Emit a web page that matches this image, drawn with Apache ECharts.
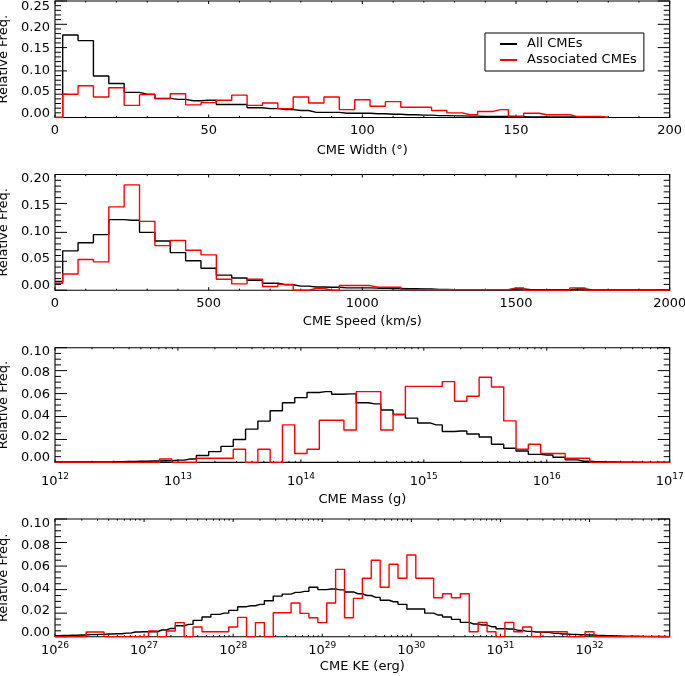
<!DOCTYPE html>
<html><head><meta charset="utf-8">
<script src="https://cdn.jsdelivr.net/npm/echarts@6/dist/echarts.min.js"></script>
<style>html,body{margin:0;padding:0;background:#fff}#c{width:685px;height:676px}</style>
</head><body><div id="c"></div>
<script>
// ---------------- DATA ----------------
// Panel 1: CME width (deg), bin centres
const widthBins = [0,5,10,15,20,25,30,35,40,45,50,55,60,65,70,75,80,85,90,95,100,105,110,115,120,125,130,135,140,145,150,155,160,165,170,175,180];
const widthAll = [0,0.177,0.165,0.089,0.073,0.054,0.050,0.041,0.039,0.036,0.037,0.028,0.028,0.021,0.019,0.017,0.015,0.011,0.011,0.009,0.009,0.008,0.007,0.006,0.005,0.004,0.0035,0.003,0.002,0.002,0.0015,0.001,0.001,0.001,0.001,0.001,0];
const widthAssoc = [0,0.050,0.068,0.044,0.064,0.026,0.049,0.040,0.051,0.027,0.032,0.037,0.048,0.026,0.031,0.019,0.044,0.031,0.044,0.017,0.038,0.024,0.034,0.022,0.022,0.015,0.010,0.006,0.013,0.017,0.003,0.009,0.006,0.006,0.002,0.002,0];

// Panel 2: CME speed (km/s), bin centres
const speedBins = [0,50,100,150,200,250,300,350,400,450,500,550,600,650,700,750,800,850,900,950,1000,1050,1100,1150,1200,1250,1300,1350,1400,1450,1500,1550,1600,1650,1700,1750,1800,1850,1900,1950,2000];
const speedAll = [0.015,0.068,0.082,0.096,0.122,0.121,0.100,0.085,0.065,0.051,0.038,0.026,0.021,0.017,0.012,0.0095,0.007,0.0055,0.005,0.004,0.004,0.0035,0.003,0.0025,0.002,0.0015,0.001,0.001,0.001,0.001,0.002,0.001,0.001,0.001,0.002,0.0005,0.0005,0.0005,0.0005,0.0005,0.0005];
const speedAssoc = [0.012,0.028,0.053,0.049,0.144,0.182,0.119,0.077,0.086,0.069,0.061,0.019,0.011,0.019,0.0065,0.010,0,0.003,0,0.008,0.008,0.005,0.005,0.001,0.001,0.001,0.001,0.001,0.001,0.001,0.004,0,0,0,0.004,0,0,0,0,0,0];

// Panel 3: CME mass, log10(g) bin centres 12.0 ... 17.0 (step 0.1)
const massStart = 12.0, massStep = 0.1;
const massAll = [0.0003,0.0003,0.0004,0.0005,0.0005,0.0006,0.0008,0.001,0.0012,0.0015,
  0.002,0.003,0.006,0.0094,0.014,0.020,0.029,0.036,0.045,0.052,
  0.0565,0.061,0.0617,0.0594,0.0597,0.052,0.051,0.0457,0.0417,0.0386,
  0.0344,0.0327,0.0269,0.0274,0.0248,0.0222,0.0158,0.0123,0.010,0.007,
  0.0065,0.0045,0.0022,0.001,0.0006,0.0003,0.0002,0.0001,0,0,0];
const massAssoc = [0,0,0,0,0,0,0,0,0,0.003,
  0,0,0.0036,0.0036,0.0036,0.0115,0,0.0115,0,0.0327,
  0.0077,0.0115,0.0367,0.0367,0.0283,0.0617,0.0617,0.0283,0.0417,0.0663,
  0.0663,0.0663,0.0704,0.0533,0.0577,0.0742,0.0658,0.0362,0.0115,0.0158,
  0.0077,0.0077,0.0036,0.0036,0,0,0,0,0,0,0];
const massDecades = [12,13,14,15,16,17];

// Panel 4: CME kinetic energy, log10(erg) bin centres 26.0 ... 32.9 (step 0.1)
const keStart = 26.0, keStep = 0.1;
const keAll = [0.0008,0.001,0.0012,0.0015,0.0018,0.002,0.0023,0.0025,0.003,0.004,
  0.0042,0.0042,0.0057,0.007,0.0093,0.0105,0.0139,0.0167,0.019,0.020,
  0.0224,0.0255,0.0263,0.0275,0.0306,0.0345,0.0362,0.0377,0.0385,0.042,
  0.040,0.0405,0.0398,0.038,0.0365,0.035,0.0334,0.031,0.0297,0.0275,
  0.0235,0.0235,0.020,0.0184,0.0167,0.0147,0.0122,0.0108,0.0099,0.0085,
  0.0068,0.0065,0.0054,0.0045,0.004,0.0037,0.0028,0.0023,0.002,0.0017,
  0.0014,0.0011,0.0008,0.0006,0.0005,0.0004,0.0003,0.0002,0.0002,0.0001];
const keAssoc = [0,0,0,0,0.004,0.004,0,0,0,0,
  0,0.0048,0,0.0048,0.012,0,0.0082,0.0042,0.0042,0.0042,
  0.0082,0.0164,0,0.012,0,0.0204,0.0204,0.0286,0.0198,0.0161,
  0.012,0.0286,0.0572,0.0161,0.0326,0.0496,0.065,0.042,0.0615,0.0496,
  0.0694,0.0496,0.0496,0.0331,0.0365,0.0331,0.0365,0.0042,0.0122,0.0042,
  0,0.0122,0.0042,0.0082,0,0.0042,0.0042,0.0042,0,0,
  0.0042,0,0,0,0,0,0,0,0,0];
const keDecades = [26,27,28,29,30,31,32];

const yTicks1 = [0,0.05,0.10,0.15,0.20,0.25];
const yTicks2 = [0,0.05,0.10,0.15,0.20];
const yTicks34 = [0,0.02,0.04,0.06,0.08,0.10];

// ---------------- BUILD ----------------
const FONT = 'DejaVu Sans';
function centres(start, step, n){ const a=[]; for(let i=0;i<n;i++) a.push(+(start+i*step).toFixed(3)); return a; }
function logMinors(decades, max){ const m=[]; decades.forEach(d=>{ for(let k=2;k<=9;k++){ const v=d+Math.log10(k); if(v<max) m.push(v);} }); return m; }
function steps(min, max, step){ const a=[]; const n=Math.round((max-min)/step); for(let i=0;i<=n;i++) a.push(min+i*step); return a; }

const panels = [
  {grid:{left:55,right:15.3,top:1,height:116.5}, xs:widthBins, all:widthAll, assoc:widthAssoc,
   x:{min:0,max:200,interval:50,log:false,name:'CME Width (°)',nameGap:27,margin:7},
   y:{max:0.25,interval:0.05,minor:5,ticks:yTicks1,lmin:-0.010,lmax:0.262}},
  {grid:{left:55,right:15.3,top:174.5,height:115.7}, xs:speedBins, all:speedAll, assoc:speedAssoc,
   x:{min:0,max:2000,interval:500,log:false,name:'CME Speed (km/s)',nameGap:24.5,margin:6.5},
   y:{max:0.2,interval:0.05,minor:5,ticks:yTicks2,lmin:-0.008,lmax:0.207}},
  {grid:{left:55,right:15.3,top:347.7,height:114.7}, xs:centres(massStart,massStep,massAll.length), all:massAll, assoc:massAssoc,
   x:{min:12,max:17,log:true,decades:massDecades,name:'CME Mass (g)',nameGap:30.5,margin:9.5},
   y:{max:0.1,interval:0.02,minor:4,ticks:yTicks34,lmin:-0.0044,lmax:0.104}},
  {grid:{left:55,right:15.3,top:519,height:117.7}, xs:centres(keStart,keStep,keAll.length), all:keAll, assoc:keAssoc,
   x:{min:26,max:32.9,log:true,decades:keDecades,name:'CME KE (erg)',nameGap:23.5,margin:4},
   y:{max:0.1,interval:0.02,minor:4,ticks:yTicks34,lmin:-0.004,lmax:0.104}}
];

const grid=[], xAxis=[], yAxis=[], series=[];
const black='#000000', red='#ff0000';
const noLine = () => ({show:false, onZero:false});
const txt = {fontFamily:FONT, fontSize:13, color:'#000'};

panels.forEach((p,i)=>{
  grid.push(Object.assign({containLabel:false, outerBoundsMode:'none', show:true, borderColor:'#000', borderWidth:1.1, backgroundColor:'transparent'}, p.grid));
  const xc = p.x, yc = p.y;
  // x axis (labels + title only; the frame and ticks are drawn separately)
  const ax = {gridIndex:i, type:'value', min:xc.min, max:xc.max, position:'bottom', splitLine:{show:false},
    axisLine:noLine(), axisTick:{show:false}, minorTick:{show:false},
    name:xc.name, nameLocation:'middle', nameGap:xc.nameGap, nameTextStyle:txt};
  let xMaj, xMin;
  if (!xc.log) {
    ax.interval = xc.interval;
    ax.axisLabel = Object.assign({show:true, margin:xc.margin, formatter:v=>String(v)}, txt);
    xMaj = steps(xc.min, xc.max, xc.interval);
    xMin = steps(xc.min, xc.max, xc.interval/5).filter(v=>!xMaj.some(m=>Math.abs(m-v)<1e-9));
  } else {
    ax.axisLabel = {show:true, margin:xc.margin, customValues:xc.decades,
      formatter: v => '{b|10}{s|' + Math.round(v) + '}',
      rich:{b:{fontFamily:FONT,fontSize:13,color:'#000',lineHeight:20},
            s:{fontFamily:FONT,fontSize:9,color:'#000',verticalAlign:'top',lineHeight:20}}};
    xMaj = xc.decades; xMin = logMinors(xc.decades, xc.max);
  }
  const mainX = xAxis.length; xAxis.push(ax);
  const mainY = yAxis.length;
  yAxis.push({gridIndex:i, type:'value', min:0, max:yc.max, interval:yc.interval, position:'left', splitLine:{show:false},
    axisLine:noLine(), axisTick:{show:false}, minorTick:{show:false}, axisLabel:{show:false}});
  // label-only axis (labels sit slightly compressed relative to ticks, as in the original)
  yAxis.push({gridIndex:i, type:'value', min:yc.lmin, max:yc.lmax, position:'left', splitLine:{show:false},
    axisLine:noLine(), axisTick:{show:false},
    axisLabel:Object.assign({show:true, margin:5, customValues:yc.ticks, formatter:v=>v.toFixed(2)}, txt),
    name:'Relative Freq.', nameLocation:'middle', nameGap:37, nameRotate:90, nameTextStyle:txt});
  const yMaj = steps(0, yc.max, yc.interval);
  const yMin = steps(0, yc.max, yc.interval/yc.minor).filter(v=>!yMaj.some(m=>Math.abs(m-v)<1e-9));

  // tick marks on all four sides (inward), placed through the axis scales
  series.push({type:'custom', coordinateSystem:'cartesian2d', xAxisIndex:mainX, yAxisIndex:mainY,
    data:[[xc.min, 0]], silent:true, animation:false, z:1, clip:false,
    renderItem:(params, api)=>{
      const ch=[];
      const seg=(a,b)=>ch.push({type:'polyline', shape:{points:[a,b]}, style:{stroke:'#000', lineWidth:1, fill:'none'}, silent:true});
      const yb = api.coord([xc.min, 0])[1], yt = api.coord([xc.min, yc.max])[1];
      const xl = api.coord([xc.min, 0])[0], xr = api.coord([xc.max, 0])[0];
      xMaj.forEach(v=>{ const x=api.coord([v,0])[0]; seg([x,yb],[x,yb-3]); seg([x,yt],[x,yt+3]); });
      xMin.forEach(v=>{ const x=api.coord([v,0])[0]; seg([x,yb],[x,yb-1.6]); seg([x,yt],[x,yt+1.6]); });
      yMaj.forEach(v=>{ const y=api.coord([xc.min,v])[1]; seg([xl,y],[xl+12,y]); seg([xr,y],[xr-12,y]); });
      yMin.forEach(v=>{ const y=api.coord([xc.min,v])[1]; seg([xl,y],[xl+6,y]); seg([xr,y],[xr-6,y]); });
      return {type:'group', children:ch};
    }});

  const mk = (name, ys, col, z) => ({type:'line', name, xAxisIndex:mainX, yAxisIndex:mainY,
    data:p.xs.map((x,j)=>[x, ys[j]]), step:'middle', showSymbol:false, symbol:'none', color:col,
    lineStyle:{color:col, width:1.4}, silent:true, animation:false, z});
  series.push(mk('All CMEs', p.all, black, 2));
  series.push(mk('Associated CMEs', p.assoc, red, 3));
});

const chart = echarts.init(document.getElementById('c'), null, {renderer:'canvas'});
chart.setOption({
  animation:false, backgroundColor:'#fff',
  grid, xAxis, yAxis, series,
  legend:{data:['All CMEs','Associated CMEs'], orient:'vertical', left:485, top:33,
    borderColor:'#000', borderWidth:1, padding:[4,7,4,15], itemGap:2, itemWidth:17, itemHeight:2,
    icon:'rect', selectedMode:false,
    textStyle:{fontFamily:FONT, fontSize:13, color:'#000', lineHeight:14, padding:[0,0,0,5]}}
});
</script></body></html>
